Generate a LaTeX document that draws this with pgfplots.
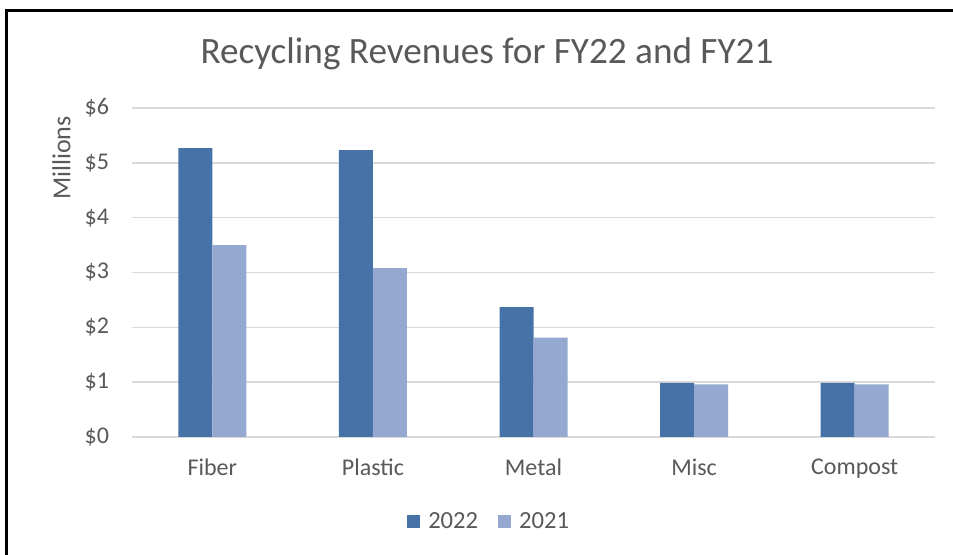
\documentclass[border=0pt]{standalone}
\usepackage{fontspec}
\setmainfont{Carlito}
\usepackage{pgfplots}
\pgfplotsset{compat=1.18}
\definecolor{fy22}{HTML}{4672A8}
\definecolor{fy21}{HTML}{95A9D0}
\definecolor{txt}{HTML}{595959}
\definecolor{gridc}{HTML}{D9D9D9}

\begin{document}
\begin{tikzpicture}
\path[use as bounding box] (0,0) rectangle (476.5pt,277.5pt);
\fill[white] (0,0) rectangle (476.5pt,277.5pt);
\draw[line width=1.6pt] (3.25pt,0) -- (3.25pt,272.4pt) -- (476.5pt,272.4pt);
\node[text=txt, font=\fontsize{18.6}{22}\selectfont] at (243.5pt,250.5pt) {Recycling Revenues for FY22 and FY21};
\begin{axis}[
    at={(66pt,59pt)}, anchor=south west,
    scale only axis, width=401.5pt, height=164.5pt,
    ybar=0pt, bar width=17pt,
    xmin=-0.5, xmax=4.5, ymin=0, ymax=6,
    xtick={0,...,4}, xticklabels={Fiber,Plastic,Metal,Misc,Compost},
    ytick={0,...,6}, yticklabels={\$0,\$1,\$2,\$3,\$4,\$5,\$6},
    axis line style={draw=none},
    major tick length=0pt,
    ymajorgrids, grid style={gridc, line width=0.7pt},
    tick label style={text=txt, font=\fontsize{12}{14}\selectfont},
    yticklabel style={xshift=-8pt},
    xticklabel style={yshift=-7.5pt},
    ylabel={Millions},
    ylabel style={at={(axis description cs:-0.088,0.848)}, anchor=center, text=txt, font=\fontsize{13}{15}\selectfont},
    legend style={at={(axis description cs:0.446,-0.258)}, anchor=center, draw=none, fill=none,
        legend columns=2, font=\fontsize{12.3}{14}\selectfont, text=txt,
        /tikz/every odd column/.append style={column sep=2pt},
        /tikz/every even column/.append style={column sep=8pt}},
    legend image code/.code={\fill[#1] (0pt,-3.25pt) rectangle (6.5pt,3.25pt);},
]
\addplot[fill=fy22, draw=none] coordinates {(0,5.27) (1,5.23) (2,2.37) (3,0.985) (4,0.985)};
\addlegendentry{2022}
\addplot[fill=fy21, draw=none] coordinates {(0,3.50) (1,3.08) (2,1.81) (3,0.96) (4,0.96)};
\addlegendentry{2021}
\end{axis}
\end{tikzpicture}
\end{document}
